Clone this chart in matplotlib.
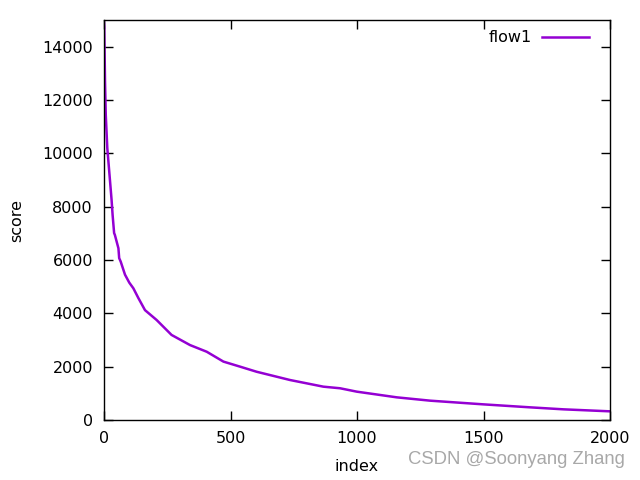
import matplotlib
matplotlib.use("Agg")
import matplotlib.pyplot as plt

# values (index, score)
index = [0, 1, 4, 7, 13, 24, 30, 34, 40, 43, 57, 60, 66, 83, 100, 116, 136, 162,
         208, 267, 340, 406, 472, 538, 603, 735, 867, 933, 999, 1157, 1289,
         1499, 1684, 1816, 2000]
score = [14900, 14750, 12690, 11440, 10200, 8940, 8250, 7690, 7010, 6940, 6440,
         6070, 5940, 5450, 5150, 4940, 4570, 4120, 3750, 3190, 2810, 2560,
         2190, 2000, 1810, 1500, 1250, 1190, 1063, 850, 725, 587, 475, 400, 325]

series_label = "flow1"
x_ticks = [0, 500, 1000, 1500, 2000]
y_ticks = [0, 2000, 4000, 6000, 8000, 10000, 12000, 14000]

plt.rcParams["font.family"] = "DejaVu Sans"
plt.rcParams["font.size"] = 11.5

fig = plt.figure(figsize=(6.4, 4.8), dpi=100)
ax = fig.add_axes([104 / 640, 60 / 480, 506 / 640, 400 / 480])

ax.plot(index, score, color="#9400d3", lw=1.8, label=series_label)

ax.set_xlim(0, 2000)
ax.set_ylim(0, 15000)
ax.set_xticks(x_ticks)
ax.set_yticks(y_ticks)
ax.tick_params(direction="in", length=6.5, width=1, top=True, right=True,
               pad=8, labelsize=11.5)
for s in ax.spines.values():
    s.set_linewidth(1)

ax.set_xlabel("index", labelpad=9)
ax.set_ylabel("score", labelpad=13)

leg = ax.legend(loc="upper right", bbox_to_anchor=(0.98, 1.0), frameon=False,
                markerfirst=False, handlelength=3.0, handletextpad=0.6,
                borderaxespad=0.25, fontsize=11.5)

fig.text(0.977, 0.042, "CSDN @Soonyang Zhang", ha="right", va="center",
         color="#a8a8a8", fontsize=13.3, family="Liberation Sans")

fig.savefig("out.png", dpi=100)
